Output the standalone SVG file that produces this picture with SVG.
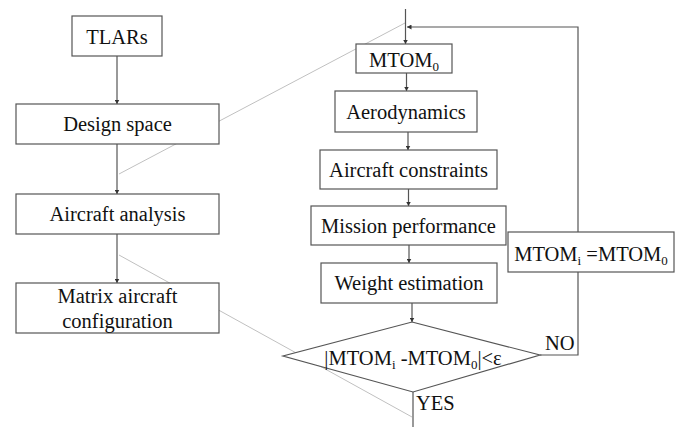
<svg xmlns="http://www.w3.org/2000/svg" width="678" height="427" viewBox="0 0 678 427">
<defs>
<style>
.box{fill:#fff;stroke:#555;stroke-width:1.2}
.ln{fill:none;stroke:#555;stroke-width:1.2}
.gl{fill:none;stroke:#c0c0c0;stroke-width:1}
text{font-family:"Times New Roman","Liberation Serif",Tinos,"Noto Serif","DejaVu Serif",serif}
.t{font-size:20.5px;fill:#111;text-anchor:middle}
.tl{font-size:20.5px;fill:#111}
.sub{font-size:13px}
</style>
<marker id="ah" markerWidth="5" markerHeight="5" refX="4.5" refY="2.5" orient="auto" markerUnits="userSpaceOnUse">
<path d="M0,0 L4.5,2.5 L0,5 Z" fill="#333"/>
</marker>
</defs>
<rect width="678" height="427" fill="#fff"/>
<g id="connectors">
<line class="gl" x1="119" y1="174" x2="405" y2="23"/>
<line class="gl" x1="119" y1="255" x2="412" y2="417"/>
<line class="ln" x1="117" y1="56" x2="117" y2="104" marker-end="url(#ah)"/>
<line class="ln" x1="117" y1="144" x2="117" y2="194" marker-end="url(#ah)"/>
<line class="ln" x1="117" y1="234" x2="117" y2="283" marker-end="url(#ah)"/>
<line class="ln" x1="405.5" y1="9" x2="405.5" y2="44" marker-end="url(#ah)"/>
<polyline class="ln" points="540,355 578,355 578,27 407,27" marker-end="url(#ah)"/>
<line class="ln" x1="406.5" y1="73" x2="406.5" y2="91" marker-end="url(#ah)"/>
<line class="ln" x1="408" y1="132" x2="408" y2="150" marker-end="url(#ah)"/>
<line class="ln" x1="408.5" y1="189" x2="408.5" y2="206" marker-end="url(#ah)"/>
<line class="ln" x1="409" y1="245" x2="409" y2="263" marker-end="url(#ah)"/>
<line class="ln" x1="412" y1="303" x2="412" y2="322" marker-end="url(#ah)"/>
<line class="ln" x1="413" y1="392" x2="413" y2="427"/>
</g>
<g id="tlars"><rect class="box" x="72" y="16" width="90" height="40"/><text class="t" x="117" y="43.5">TLARs</text></g>
<g id="design-space"><rect class="box" x="16" y="104" width="203" height="40"/><text class="t" x="117.5" y="131">Design space</text></g>
<g id="aircraft-analysis"><rect class="box" x="16" y="194" width="203" height="40"/><text class="t" x="117.5" y="221">Aircraft analysis</text></g>
<g id="matrix"><rect class="box" x="16" y="283" width="203" height="50"/><text class="t" x="117.5" y="303">Matrix aircraft</text><text class="t" x="117.5" y="327.5">configuration</text></g>
<g id="mtom0"><rect class="box" x="356" y="44" width="96" height="29"/><text class="t" x="404" y="66.5">MTOM<tspan class="sub" dy="4">0</tspan></text></g>
<g id="aerodynamics"><rect class="box" x="335" y="91" width="142" height="41"/><text class="t" x="406" y="118.5">Aerodynamics</text></g>
<g id="constraints"><rect class="box" x="320" y="150" width="177" height="39"/><text class="t" x="408.5" y="176.5">Aircraft constraints</text></g>
<g id="mission"><rect class="box" x="311" y="206" width="195" height="39"/><text class="t" x="408.5" y="232.5">Mission performance</text></g>
<g id="weight"><rect class="box" x="321" y="263" width="176" height="40"/><text class="t" x="409" y="290">Weight estimation</text></g>
<g id="decision"><polygon class="box" points="412,322 540,355 413,392 283,356"/><text class="t" x="413" y="365">|MTOM<tspan class="sub" dy="4">i</tspan><tspan dy="-4"> -MTOM</tspan><tspan class="sub" dy="4">0</tspan><tspan dy="-4">|&lt;ε</tspan></text></g>
<g id="update"><rect class="box" x="508" y="232" width="166" height="40"/><text class="t" x="591" y="260.5">MTOM<tspan class="sub" dy="4">i</tspan><tspan dy="-4"> =MTOM</tspan><tspan class="sub" dy="4">0</tspan></text></g>
<g id="labels"><text class="tl" x="545" y="350">NO</text><text class="tl" x="416" y="410">YES</text></g>
</svg>
